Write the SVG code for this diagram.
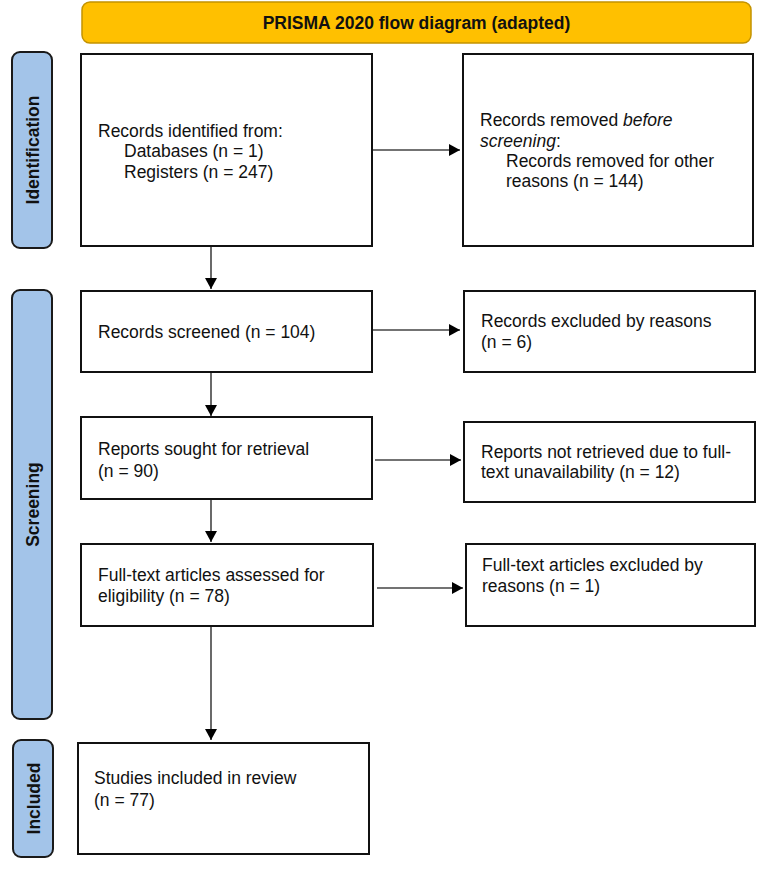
<svg xmlns="http://www.w3.org/2000/svg" width="765" height="869" viewBox="0 0 765 869">
<style>
text{font-family:"Liberation Sans",Arial,sans-serif;font-size:17.5px;fill:#111}
.box{fill:#fff;stroke:#111;stroke-width:2}
.pill{fill:#A3C4E9;stroke:#1a1a1a;stroke-width:2}
.ptxt{font-weight:bold;text-anchor:middle}
.title{fill:#FFC000;stroke:#C49300;stroke-width:1.5}
.conn line{stroke:#444;stroke-width:1.6}
</style>
<defs>
<marker id="ah" markerWidth="12" markerHeight="12" refX="11" refY="6" orient="auto" markerUnits="userSpaceOnUse">
<path d="M0,0 L11,6 L0,12 Z" fill="#000"/>
</marker>
</defs>
<g id="title">
<rect class="title" x="82" y="2" width="669" height="41" rx="8"/>
<text x="416.5" y="29" style="font-weight:bold;text-anchor:middle">PRISMA 2020 flow diagram (adapted)</text>
</g>
<g id="phase-identification">
<rect class="pill" x="12" y="52" width="40" height="196" rx="8"/>
<text class="ptxt" transform="translate(39,150) rotate(-90)">Identification</text>
</g>
<g id="phase-screening">
<rect class="pill" x="12" y="290" width="40" height="429" rx="8"/>
<text class="ptxt" transform="translate(39,504.5) rotate(-90)">Screening</text>
</g>
<g id="phase-included">
<rect class="pill" x="13" y="740" width="40" height="117" rx="8"/>
<text class="ptxt" transform="translate(40,798.5) rotate(-90)">Included</text>
</g>
<g id="identified">
<rect class="box" x="81" y="54" width="291" height="192"/>
<text x="98" y="137">Records identified from:</text>
<text x="124" y="157">Databases (n = 1)</text>
<text x="124" y="178">Registers (n = 247)</text>
</g>
<g id="removed">
<rect class="box" x="463" y="54" width="290" height="192"/>
<text x="480" y="126">Records removed <tspan font-style="italic">before</tspan></text>
<text x="480" y="147"><tspan font-style="italic">screening</tspan>:</text>
<text x="506" y="167">Records removed for other</text>
<text x="506" y="187">reasons (n = 144)</text>
</g>
<g id="screened">
<rect class="box" x="81" y="291" width="291" height="81"/>
<text x="98" y="338">Records screened (n = 104)</text>
</g>
<g id="excluded">
<rect class="box" x="464" y="291" width="291" height="81"/>
<text x="481" y="327">Records excluded by reasons</text>
<text x="481" y="348">(n = 6)</text>
</g>
<g id="sought">
<rect class="box" x="81" y="417" width="291" height="82"/>
<text x="98" y="455">Reports sought for retrieval</text>
<text x="98" y="477">(n = 90)</text>
</g>
<g id="not-retrieved">
<rect class="box" x="464" y="422" width="291" height="80"/>
<text x="481" y="458">Reports not retrieved due to full-</text>
<text x="481" y="478">text unavailability (n = 12)</text>
</g>
<g id="assessed">
<rect class="box" x="81" y="544" width="292" height="82"/>
<text x="98" y="581">Full-text articles assessed for</text>
<text x="98" y="602">eligibility (n = 78)</text>
</g>
<g id="ft-excluded">
<rect class="box" x="466" y="544" width="289" height="82"/>
<text x="482" y="571">Full-text articles excluded by</text>
<text x="482" y="592">reasons (n = 1)</text>
</g>
<g id="included">
<rect class="box" x="78" y="743" width="291" height="111"/>
<text x="94" y="784">Studies included in review</text>
<text x="94" y="806">(n = 77)</text>
</g>
<g id="connectors" class="conn">
<line x1="373" y1="150" x2="460" y2="150" marker-end="url(#ah)"/>
<line x1="211" y1="247" x2="211" y2="289" marker-end="url(#ah)"/>
<line x1="373" y1="330" x2="460" y2="330" marker-end="url(#ah)"/>
<line x1="211" y1="373" x2="211" y2="416" marker-end="url(#ah)"/>
<line x1="375" y1="460" x2="461" y2="460" marker-end="url(#ah)"/>
<line x1="211" y1="500" x2="211" y2="542" marker-end="url(#ah)"/>
<line x1="377" y1="588" x2="463" y2="588" marker-end="url(#ah)"/>
<line x1="211" y1="627" x2="211" y2="740" marker-end="url(#ah)"/>
</g>
</svg>
